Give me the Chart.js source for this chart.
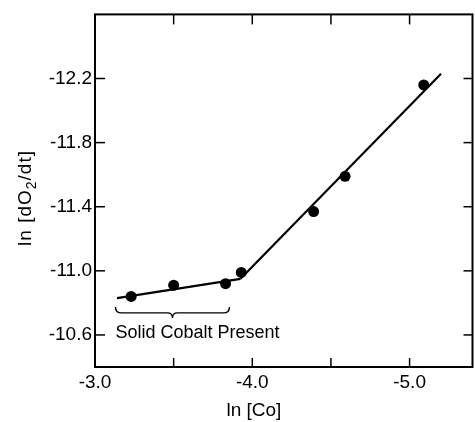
<!DOCTYPE html>
<html><head><meta charset="utf-8">
<script src="https://cdn.jsdelivr.net/npm/chart.js@4"></script>
<style>html,body{margin:0;padding:0;background:#fff;overflow:hidden;width:475px;height:422px}</style>
</head><body>
<canvas id="c" width="478" height="422" style="display:block;width:478px;height:422px"></canvas>
<script>
// Measured points
const pointsX = [-3.23, -3.50, -3.83, -3.93, -4.39, -4.59, -5.09];
const pointsY = [-10.84, -10.91, -10.92, -10.99, -11.37, -11.59, -12.16];
// Fitted line segments
const line1X = [-3.14, -3.925];
const line1Y = [-10.83, -10.95];
const line2X = [-3.925, -5.20];
const line2Y = [-10.95, -12.23];
// Ticks
const xTicks = [-3.0, -3.5, -4.0, -4.5, -5.0];
const xTickLabels = ['-3.0', '', '-4.0', '', '-5.0'];
const yTicks = [-12.2, -11.8, -11.4, -11.0, -10.6];
const yTickLabels = ['-12.2', '-11.8', '-11.4', '-11.0', '-10.6'];
// Annotation (data units)
const braceX = [-3.13, -3.855];
const braceY = [-10.775, -10.738, -10.706];
const noteText = 'Solid Cobalt Present';
const notePos = [-3.13, -10.58];

const FONT = "'Liberation Sans', Arial, sans-serif";
Chart.defaults.font.family = FONT;
Chart.defaults.color = '#000';

const toXY = (xs, ys) => xs.map((v, i) => ({x: v, y: ys[i]}));
const idx = (arr, v) => arr.findIndex(a => Math.abs(a - v) < 1e-6);

const frame = {
  id: 'frame',
  afterDraw(chart) {
    const {ctx, chartArea: a, scales: {x, y}} = chart;
    const seg = (x1, y1, x2, y2) => { ctx.beginPath(); ctx.moveTo(x1, y1); ctx.lineTo(x2, y2); ctx.stroke(); };
    ctx.save();
    ctx.strokeStyle = '#000';
    ctx.lineWidth = 2;
    ctx.strokeRect(a.left, a.top, a.right - a.left, a.bottom - a.top);
    ctx.lineWidth = 1.5;
    xTicks.forEach(v => {
      const px = x.getPixelForValue(v);
      seg(px, a.bottom, px, a.bottom - 9);
      seg(px, a.top, px, a.top + 10);
    });
    yTicks.forEach(v => {
      const py = y.getPixelForValue(v);
      seg(a.left, py, a.left + 10, py);
      seg(a.right, py, a.right - 9, py);
    });
    // brace
    const bl = x.getPixelForValue(braceX[0]), br = x.getPixelForValue(braceX[1]);
    const bm = (bl + br) / 2;
    const yt = y.getPixelForValue(braceY[0]), ym = y.getPixelForValue(braceY[1]), yp = y.getPixelForValue(braceY[2]);
    ctx.lineWidth = 1.4;
    ctx.beginPath();
    ctx.moveTo(bl, yt);
    ctx.quadraticCurveTo(bl, ym, bl + 6, ym);
    ctx.lineTo(bm - 5, ym);
    ctx.quadraticCurveTo(bm, ym, bm, yp);
    ctx.quadraticCurveTo(bm, ym, bm + 5, ym);
    ctx.lineTo(br - 6, ym);
    ctx.quadraticCurveTo(br, ym, br, yt);
    ctx.stroke();
    // note text
    ctx.fillStyle = '#000';
    ctx.font = '18px ' + FONT;
    ctx.textAlign = 'left';
    ctx.textBaseline = 'alphabetic';
    ctx.fillText(noteText, x.getPixelForValue(notePos[0]), y.getPixelForValue(notePos[1]));
    // x title
    ctx.textAlign = 'center';
    ctx.textBaseline = 'middle';
    ctx.font = '19px ' + FONT;
    ctx.fillText('ln [Co]', x.getPixelForValue(-4.01), 411);
    // y title with subscript
    ctx.translate(24, 198);
    ctx.rotate(-Math.PI / 2);
    try { ctx.letterSpacing = '1px'; } catch (e) {}
    const p1 = 'ln [dO', p2 = '2', p3 = '/dt]';
    ctx.font = '19px ' + FONT;
    const w1 = ctx.measureText(p1).width, w3 = ctx.measureText(p3).width;
    ctx.font = '14px ' + FONT;
    const w2 = ctx.measureText(p2).width;
    const tot = w1 + w2 + w3;
    let cx = -tot / 2;
    ctx.textAlign = 'left';
    ctx.textBaseline = 'alphabetic';
    ctx.font = '19px ' + FONT;
    ctx.fillText(p1, cx, 7); cx += w1;
    ctx.font = '14px ' + FONT;
    ctx.fillText(p2, cx, 12); cx += w2;
    ctx.font = '19px ' + FONT;
    ctx.fillText(p3, cx, 7);
    ctx.restore();
  }
};

new Chart(document.getElementById('c'), {
  type: 'scatter',
  data: {
    datasets: [
      {data: toXY(line1X, line1Y), showLine: true, borderColor: '#000', borderWidth: 2.2, pointRadius: 0, fill: false},
      {data: toXY(line2X, line2Y), showLine: true, borderColor: '#000', borderWidth: 2.2, pointRadius: 0, fill: false},
      {data: toXY(pointsX, pointsY), showLine: false, backgroundColor: '#000', borderColor: '#000', pointRadius: 5.5, pointBorderWidth: 0}
    ]
  },
  options: {
    responsive: false,
    animation: false,
    devicePixelRatio: 1,
    layout: {padding: {top: 14, right: 1, left: 0, bottom: 0}},
    plugins: {legend: {display: false}, tooltip: {enabled: false}},
    scales: {
      x: {
        type: 'linear', reverse: true, min: -5.4, max: -3.0,
        afterBuildTicks: s => { s.ticks = xTicks.map(v => ({value: v})); },
        afterFit: s => { s.height = 55; },
        grid: {display: false, drawTicks: false},
        border: {display: false},
        ticks: {
          padding: 4, autoSkip: false, maxRotation: 0,
          font: {size: 19},
          callback: v => { const i = idx(xTicks, v); return i >= 0 ? xTickLabels[i] : ''; }
        }
      },
      y: {
        type: 'linear', reverse: true, min: -12.6, max: -10.4,
        afterBuildTicks: s => { s.ticks = yTicks.map(v => ({value: v})); },
        afterFit: s => { s.width = 95; },
        grid: {display: false, drawTicks: false},
        border: {display: false},
        ticks: {
          padding: 3, autoSkip: false,
          font: {size: 19},
          callback: v => { const i = idx(yTicks, v); return i >= 0 ? yTickLabels[i] : ''; }
        }
      }
    }
  },
  plugins: [frame]
});
</script>
</body></html>
